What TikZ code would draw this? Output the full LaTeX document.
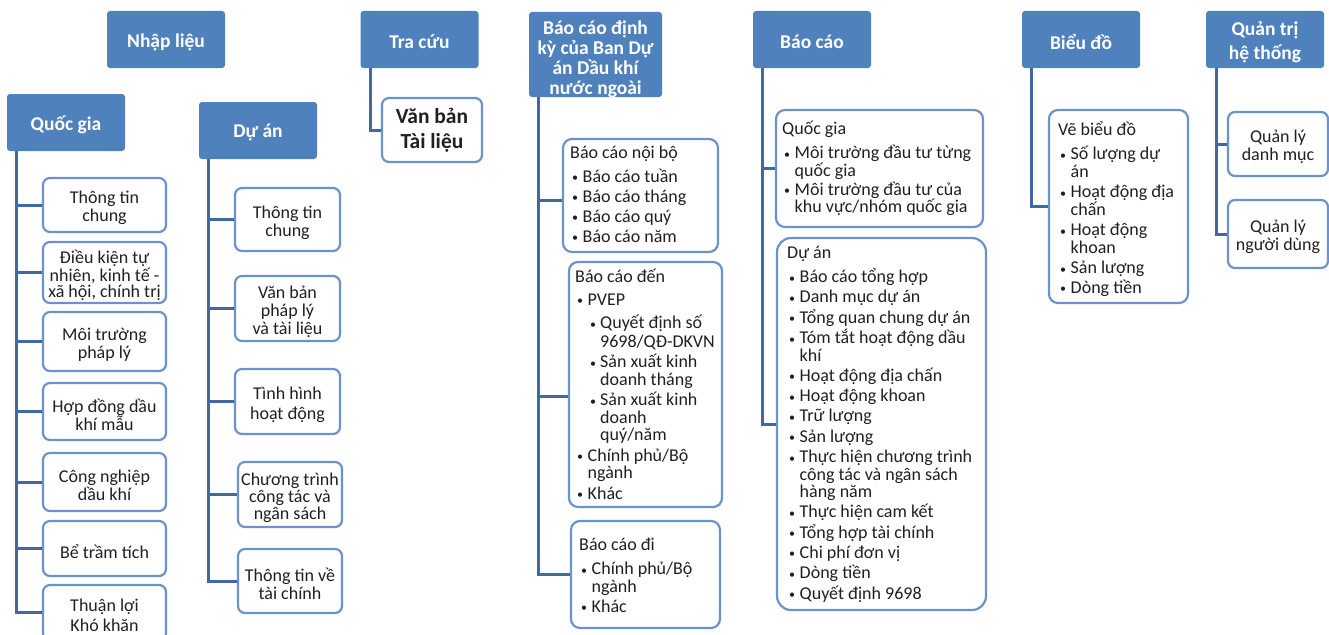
\documentclass[tikz,border=0pt]{standalone}
\usepackage{fontspec}
\setmainfont{Carlito}
\definecolor{hdr}{RGB}{79,129,189}
\definecolor{bord}{RGB}{108,146,204}
\definecolor{connc}{RGB}{66,103,163}
\definecolor{txt}{RGB}{35,31,32}
\newcommand{\myb}{\hspace*{2pt}\makebox[10.5pt][l]{\fontsize{12}{12}\selectfont\raisebox{0.5pt}{•}}}
\newcommand{\myi}{\hspace*{12.5pt}}
\newcommand{\mysb}{\hspace*{15pt}\makebox[10pt][l]{\fontsize{12}{12}\selectfont\raisebox{0.5pt}{•}}}
\newcommand{\mysi}{\hspace*{25pt}}
\tikzset{
  hdrbox/.style={fill=hdr, draw=none, rounded corners=3pt, inner sep=0pt, minimum width=118pt, minimum height=57pt},
  htext/.style={text=white, font=\fontsize{19.5}{20}\selectfont\bfseries, align=center, inner sep=0pt, yshift=-2.5pt},
  cbox/.style={draw=bord, line width=2.2pt, fill=white, rounded corners=7pt, inner sep=0pt},
  ctext/.style={align=center, text=txt, font=\fontsize{18}{18}\selectfont, inner sep=0pt, yshift=-3pt},
  lbox/.style={draw=bord, line width=2.2pt, fill=white, rounded corners=9pt, inner sep=0pt},
  ltext/.style={anchor=base west, align=left, text=txt, font=\fontsize{18}{17.5}\selectfont, inner sep=0pt},
  connl/.style={draw=connc, line width=3pt},
}
\begin{document}
\begin{tikzpicture}[x=1pt,y=-1pt]
\useasboundingbox[fill=white] (0,0) rectangle (1329,634);
% headers
\node[hdrbox] (nl) at (166,39.5) {};
\node[htext] (nlt) at (nl.center) {Nhập liệu};
\node[hdrbox] (qgh) at (66,122.5) {};
\node[htext] (qght) at (qgh.center) {Quốc gia};
\node[hdrbox] (dah) at (258,130.5) {};
\node[htext] (daht) at (dah.center) {Dự án};
\node[hdrbox] (tch) at (419.5,39.5) {};
\node[htext] (tcht) at (tch.center) {Tra cứu};
\node[hdrbox, minimum width=133pt, minimum height=85pt] (bch) at (595.5,54.5) {};
\node[htext, yshift=-2pt] (bcht) at (bch.center) {Báo cáo định\\kỳ của Ban Dự\\án Dầu khí\\nước ngoài};
\node[hdrbox] (bcoh) at (812,39.5) {};
\node[htext] (bcoht) at (bcoh.center) {Báo cáo};
\node[hdrbox] (bdh) at (1081,39.5) {};
\node[htext] (bdht) at (bdh.center) {Biểu đồ};
\node[hdrbox] (qth) at (1265,39.5) {};
\node[htext] (qtht) at (qth.center) {Quản trị\\[4pt]hệ thống};
% Quoc gia column
\node[cbox, minimum width=123pt, minimum height=54pt] (qg1) at (104.5,205) {};
\node[ctext] (qg1t) at (qg1.center) {Thông tin\\chung};
\node[cbox, minimum width=123pt, minimum height=61pt] (qg2) at (104.5,272.5) {};
\node[ctext, font=\fontsize{18}{16.5}\selectfont] (qg2t) at (qg2.center) {Điều kiện tự\\nhiên, kinh tế -\\xã hội, chính trị};
\node[cbox, minimum width=123pt, minimum height=59pt] (qg3) at (104.5,341.5) {};
\node[ctext] (qg3t) at (qg3.center) {Môi trường\\pháp lý};
\node[cbox, minimum width=123pt, minimum height=57pt] (qg4) at (104.5,411.5) {};
\node[ctext] (qg4t) at (qg4.center) {Hợp đồng dầu\\khí mẫu};
\node[cbox, minimum width=123pt, minimum height=58pt] (qg5) at (104.5,482) {};
\node[ctext] (qg5t) at (qg5.center) {Công nghiệp\\dầu khí};
\node[cbox, minimum width=123pt, minimum height=55pt] (qg6) at (104.5,548.5) {};
\node[ctext] (qg6t) at (qg6.center) {Bể trầm tích};
\node[cbox, minimum width=123pt, minimum height=55pt] (qg7) at (104.5,612.5) {};
\node[ctext] (qg7t) at (qg7.center) {Thuận lợi\\[2pt]Khó khăn};
\foreach \c in {qg1,qg2,qg3,qg4,qg5,qg6,qg7}
  \draw[connl] ([xshift=-50pt]qgh.south) |- (\c.west);
% Du an column
\node[cbox, minimum width=105pt, minimum height=63pt] (da1) at (287.5,219.5) {};
\node[ctext] (da1t) at (da1.center) {Thông tin\\chung};
\node[cbox, minimum width=105pt, minimum height=65pt] (da2) at (287.5,308.5) {};
\node[ctext] (da2t) at (da2.center) {Văn bản\\pháp lý\\và tài liệu};
\node[cbox, minimum width=105pt, minimum height=65pt] (da3) at (287.5,401.5) {};
\node[ctext] (da3t) at (da3.center) {Tình hình\\[2pt]hoạt động};
\node[cbox, minimum width=104pt, minimum height=65pt] (da4) at (290,494.5) {};
\node[ctext, font=\fontsize{18}{17}\selectfont] (da4t) at (da4.center) {Chương trình\\công tác và\\ngân sách};
\node[cbox, minimum width=104pt, minimum height=64pt] (da5) at (290,581) {};
\node[ctext] (da5t) at (da5.center) {Thông tin về\\tài chính};
\foreach \c in {da1,da2,da3,da4,da5}
  \draw[connl] ([xshift=-50pt]dah.south) |- (\c.west);
% Tra cuu
\node[cbox, minimum width=100pt, minimum height=64pt] (vb) at (432,130) {};
\node[ctext, yshift=3pt, font=\fontsize{21.5}{25}\selectfont\bfseries] (vbt) at (vb.center) {Văn bản\\Tài liệu};
\draw[connl] ([xshift=-49.5pt]tch.south) |- (vb.west);
% Bao cao dinh ky
\node[lbox, minimum width=155pt, minimum height=113pt] (nb) at (640.5,195.5) {};
\node[lbox, minimum width=153pt, minimum height=245pt] (den) at (645.5,384.5) {};
\node[lbox, minimum width=149pt, minimum height=107pt] (di) at (645.5,574.5) {};
\draw[connl] ([xshift=-57.5pt]bch.south) |- ([yshift=-4.5pt]nb.west);
\draw[connl] ([xshift=-57.5pt]bch.south) |- ([yshift=-11.5pt]den.west);
\draw[connl] ([xshift=-57.5pt]bch.south) |- (di.west);
\node[ltext] (nbt) at (570,242) {Báo cáo nội bộ\\[6.5pt]
\myb Báo cáo tuần\\[2.5pt]
\myb Báo cáo tháng\\[2.5pt]
\myb Báo cáo quý\\[2.5pt]
\myb Báo cáo năm};
\node[ltext] (dent) at (575,499) {Báo cáo đến\\[5pt]
\myb PVEP\\[6pt]
\mysb Quyết định số\\[1pt]
\mysi 9698/QĐ-DKVN\\[3pt]
\mysb Sản xuất kinh\\
\mysi doanh tháng\\[3pt]
\mysb Sản xuất kinh\\
\mysi doanh\\
\mysi quý/năm\\[3pt]
\myb Chính phủ/Bộ\\
\myi ngành\\[3pt]
\myb Khác};
\node[ltext] (dit) at (579,612) {Báo cáo đi\\[6.5pt]
\myb Chính phủ/Bộ\\
\myi ngành\\[2.5pt]
\myb Khác};
% Bao cao
\node[lbox, minimum width=207pt, minimum height=117pt] (bqg) at (879.5,168.5) {};
\node[lbox, minimum width=209pt, minimum height=372pt, rounded corners=14pt] (bda) at (881.5,424) {};
\draw[connl] ([xshift=-50pt]bcoh.south) |- (bqg.west);
\draw[connl] ([xshift=-50pt]bcoh.south) |- (bda.west);
\node[ltext] (bqgt) at (782,212.5) {Quốc gia\\[6.5pt]
\myb Môi trường đầu tư từng\\
\myi quốc gia\\[1.5pt]
\myb Môi trường đầu tư của\\
\myi khu vực/nhóm quốc gia};
\node[ltext] (bdat) at (787,599) {Dự án\\[7pt]
\myb Báo cáo tổng hợp\\[2.8pt]
\myb Danh mục dự án\\[2.8pt]
\myb Tổng quan chung dự án\\[2.8pt]
\myb Tóm tắt hoạt động dầu\\
\myi khí\\[2.8pt]
\myb Hoạt động địa chấn\\[2.8pt]
\myb Hoạt động khoan\\[2.8pt]
\myb Trữ lượng\\[2.8pt]
\myb Sản lượng\\[2.8pt]
\myb Thực hiện chương trình\\
\myi công tác và ngân sách\\
\myi hàng năm\\[2.8pt]
\myb Thực hiện cam kết\\[2.8pt]
\myb Tổng hợp tài chính\\[2.8pt]
\myb Chi phí đơn vị\\[2.8pt]
\myb Dòng tiền\\[2.8pt]
\myb Quyết định 9698};
% Bieu do
\node[lbox, minimum width=139pt, minimum height=193pt] (vbd) at (1118.5,206.5) {};
\draw[connl] ([xshift=-50pt]bdh.south) |- (vbd.west);
\node[ltext] (vbdt) at (1058,293) {Vẽ biểu đồ\\[6.5pt]
\myb Số lượng dự\\
\myi án\\[3pt]
\myb Hoạt động địa\\
\myi chấn\\[3pt]
\myb Hoạt động\\
\myi khoan\\[3pt]
\myb Sản lượng\\[2pt]
\myb Dòng tiền};
% Quan tri
\node[cbox, minimum width=100pt, minimum height=64pt] (ql1) at (1278,144) {};
\node[ctext, font=\fontsize{18}{17.5}\selectfont] (ql1t) at (ql1.center) {Quản lý\\danh mục};
\node[cbox, minimum width=100pt, minimum height=68pt] (ql2) at (1278,234) {};
\node[ctext, font=\fontsize{18}{17.5}\selectfont] (ql2t) at (ql2.center) {Quản lý\\người dùng};
\draw[connl] ([xshift=-49pt]qth.south) |- (ql1.west);
\draw[connl] ([xshift=-49pt]qth.south) |- (ql2.west);
\end{tikzpicture}
\end{document}
